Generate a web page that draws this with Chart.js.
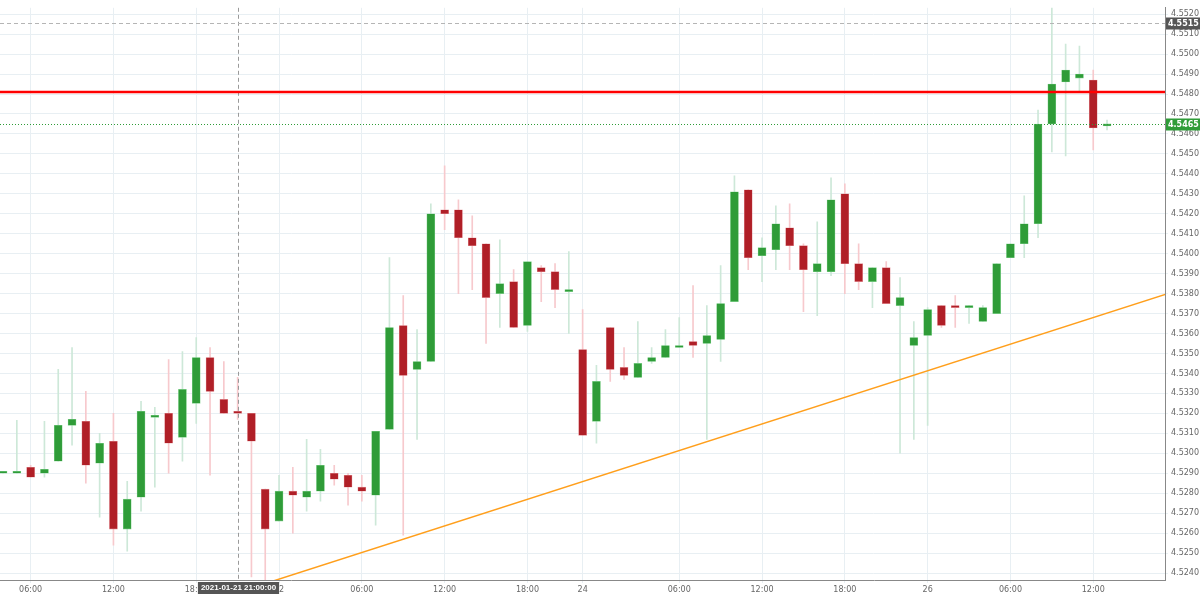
<!DOCTYPE html>
<html>
<head>
<meta charset="utf-8">
<script src="https://cdn.jsdelivr.net/npm/chart.js@4.4.1/dist/chart.umd.min.js"></script>
<style>
  html, body { margin: 0; padding: 0; background: #fff; }
  #wrap { width: 1200px; height: 595px; }
</style>
</head>
<body>
<div id="wrap"><canvas id="c"></canvas></div>
<script>
// hourly candles, 2021-01-21 04:00 .. 2021-01-26 12:00 (weekend skipped)
const opens  = [4.5290,4.5290,4.5293,4.5290,4.5296,4.5314,4.5316,4.5295,4.5306,4.5262,4.5278,4.5318,4.5320,4.5308,4.5325,4.5348,4.5327,4.5321,4.5320,4.5282,
                4.5266,4.5281,4.5278,4.5281,4.5290,4.5289,4.5283,4.5279,4.5312,4.5364,4.5342,4.5346,4.5422,4.5422,4.5408,4.5405,4.5380,4.5386,4.5364,4.5393,4.5391,4.5381,
                4.5352,4.5316,4.5363,4.5343,4.5338,4.5346,4.5348,4.5353,4.5356,4.5355,4.5357,4.5376,4.5432,4.5399,4.5402,4.5413,4.5404,4.5391,4.5391,4.5430,4.5395,4.5386,4.5393,4.5374,
                4.5354,4.5359,4.5374,4.5374,4.5373,4.5366,4.5370,4.5398,4.5405,4.5415,4.5465,4.5486,4.5488,4.5487,4.5464];
const highs  = [4.5290,4.53165,4.5294,4.5316,4.5342,4.5353,4.5331,4.5310,4.5320,4.5286,4.5326,4.5323,4.5347,4.5351,4.5358,4.5353,4.5346,4.5338,4.5320,4.5282,
                4.5289,4.5293,4.5307,4.5302,4.5294,4.5290,4.5289,4.5311,4.5398,4.5379,4.5362,4.5425,4.5444,4.5427,4.5419,4.5405,4.5407,4.5392,4.5396,4.5394,4.5395,4.5401,
                4.5372,4.5344,4.5363,4.5353,4.5366,4.5353,4.5362,4.5368,4.5384,4.5374,4.5394,4.5439,4.5432,4.5408,4.5424,4.5425,4.5405,4.5416,4.5438,4.5435,4.5405,4.5393,4.5396,4.5388,
                4.5366,4.5373,4.5374,4.5379,4.5374,4.5374,4.5395,4.5405,4.5429,4.5472,4.5530,4.5505,4.5504,4.5492,4.5467];
const lows   = [4.5290,4.5290,4.5288,4.5288,4.5296,4.5304,4.5285,4.5268,4.5254,4.5251,4.5271,4.5283,4.5290,4.5296,4.5315,4.5289,4.5320,4.5317,4.5238,4.5235,
                4.5266,4.5260,4.5271,4.5276,4.5284,4.5274,4.5276,4.5264,4.5312,4.5259,4.5307,4.5346,4.5412,4.5380,4.5382,4.5355,4.5363,4.5363,4.5361,4.5376,4.5373,4.5360,
                4.5309,4.5305,4.5336,4.5337,4.5338,4.5345,4.5348,4.5353,4.5348,4.5307,4.5346,4.5376,4.5392,4.5386,4.5392,4.5392,4.5371,4.5369,4.5389,4.5380,4.5382,4.5373,4.5375,4.5300,
                4.5307,4.5314,4.5363,4.5363,4.5365,4.5366,4.5370,4.5398,4.5398,4.5408,4.5451,4.5449,4.5481,4.5452,4.5462];
const closes = [4.52905,4.52905,4.5288,4.5292,4.5314,4.5317,4.5294,4.5305,4.5262,4.5277,4.5321,4.5319,4.5305,4.5332,4.5348,4.5331,4.5320,4.5320,4.5306,4.5262,
                4.5281,4.5279,4.5281,4.5294,4.5287,4.5283,4.5281,4.5311,4.5363,4.5339,4.5346,4.5420,4.5420,4.5408,4.5404,4.5378,4.5385,4.5363,4.5396,4.5391,4.5382,4.5382,
                4.5309,4.5336,4.5342,4.5339,4.5345,4.5348,4.5354,4.5354,4.5354,4.5359,4.5375,4.5431,4.5398,4.5403,4.5415,4.5404,4.5392,4.5395,4.5427,4.5395,4.5386,4.5393,4.5375,4.5378,
                4.5358,4.5372,4.5364,4.5373,4.5373,4.5373,4.5395,4.5405,4.5415,4.5465,4.5485,4.5492,4.5490,4.5463,4.5465];

// x-axis labels by candle index
const tickIndex  = [2, 8, 14, 20, 26, 32, 38, 42, 49, 55, 61, 67, 73, 79];
const tickLabels = ['06:00','12:00','18:00','22','06:00','12:00','18:00','24','06:00','12:00','18:00','26','06:00','12:00'];

// overlays
const resistance = 4.5481;
const lastPrice = 4.5465;
const cursorPrice = 4.55155;
const cursorIndex = 17;
const cursorText = '2021-01-21 21:00:00';
const trendX = [18, 84.4];
const trendY = [4.52325, 4.5380];

const GREEN = '#2f9c38', RED = '#b01f27';
const GREEN_WICK = '#cde8d8', RED_WICK = '#f7c9cd';

const isUp = closes.map((c, i) => c >= opens[i]);
const bodies = opens.map((o, i) => ({ x: i, y: [o, closes[i]] }));
const wicks = lows.map((l, i) => ({ x: i, y: [l, highs[i]] }));

const overlayPlugin = {
  id: 'overlay',
  afterDatasetsDraw(chart) {
    const { ctx, chartArea: a, scales: { x, y } } = chart;
    ctx.save();
    // cursor crosshair
    ctx.strokeStyle = '#9a9a9a';
    ctx.lineWidth = 1;
    ctx.setLineDash([4, 3]);
    const cx = Math.round(x.getPixelForValue(cursorIndex)) + 0.5;
    ctx.beginPath(); ctx.moveTo(cx, a.top); ctx.lineTo(cx, a.bottom); ctx.stroke();
    const cy = Math.round(y.getPixelForValue(cursorPrice)) + 0.5;
    ctx.strokeStyle = '#b5b5b5';
    ctx.beginPath(); ctx.moveTo(a.left, cy); ctx.lineTo(a.right, cy); ctx.stroke();
    // last price dotted
    const ly = Math.round(y.getPixelForValue(lastPrice)) + 0.5;
    ctx.strokeStyle = GREEN;
    ctx.setLineDash([1, 2]);
    ctx.beginPath(); ctx.moveTo(a.left, ly); ctx.lineTo(a.right, ly); ctx.stroke();
    // resistance line
    ctx.setLineDash([]);
    ctx.strokeStyle = '#ff0000';
    ctx.lineWidth = 2.5;
    const ry = y.getPixelForValue(resistance);
    ctx.beginPath(); ctx.moveTo(a.left, ry); ctx.lineTo(a.right, ry); ctx.stroke();
    ctx.restore();

    // price tags on the axis
    ctx.save();
    ctx.font = 'bold 8px "DejaVu Sans"';
    ctx.textBaseline = 'middle';
    const tag = (val, yy, bg) => {
      ctx.fillStyle = bg;
      ctx.fillRect(a.right + 1, yy - 6, 34, 12);
      ctx.fillStyle = '#fff';
      ctx.textAlign = 'left';
      ctx.fillText(val.toFixed(4), a.right + 3, yy);
    };
    tag(cursorPrice, cy, '#555555');
    tag(lastPrice, ly, GREEN);
    // time tag
    ctx.font = 'bold 8px "Liberation Sans"';
    const tw = ctx.measureText(cursorText).width + 6;
    ctx.fillStyle = '#555555';
    ctx.fillRect(cx - tw / 2, a.bottom + 2, tw, 12);
    ctx.fillStyle = '#fff';
    ctx.textAlign = 'center';
    ctx.fillText(cursorText, cx, a.bottom + 8);
    ctx.restore();
  }
};

new Chart(document.getElementById('c'), {
  data: {
    datasets: [
      {
        type: 'bar', label: 'wick', data: wicks, order: 3,
        backgroundColor: isUp.map(u => u ? GREEN_WICK : RED_WICK),
        barThickness: 1, grouped: false
      },
      {
        type: 'bar', label: 'body', data: bodies, order: 2,
        backgroundColor: isUp.map(u => u ? GREEN : RED),
        borderColor: isUp.map(u => u ? '#7fcf8a' : '#e08a90'),
        borderWidth: 0.6, borderSkipped: false,
        barThickness: 8, grouped: false, minBarLength: 2
      },
      {
        type: 'line', label: 'trend', order: 1,
        data: trendX.map((v, i) => ({ x: v, y: trendY[i] })),
        borderColor: '#ff9f1c', borderWidth: 1.5, pointRadius: 0, fill: false
      }
    ]
  },
  options: {
    responsive: true,
    maintainAspectRatio: false,
    animation: false,
    layout: { padding: { top: -8, left: 0, right: 0, bottom: 0 } },
    plugins: { legend: { display: false }, tooltip: { enabled: false } },
    scales: {
      x: {
        type: 'linear', min: -0.22, max: 84.2, offset: false,
        afterBuildTicks: (s) => { s.ticks = tickIndex.map(v => ({ value: v })); },
        afterFit: (s) => { s.height = 15; },
        ticks: {
          autoSkip: false, maxRotation: 0, color: '#666', padding: 2,
          font: { size: 8, family: 'DejaVu Sans' },
          callback: (v) => tickLabels[tickIndex.indexOf(v)] ?? ''
        },
        grid: { color: '#e8eff3', tickLength: 3, offset: false },
        border: { color: '#888' }
      },
      y: {
        position: 'right', min: 4.52365, max: 4.55232,
        afterBuildTicks: (s) => {
          const t = [];
          for (let k = 0; k <= 28; k++) t.push({ value: +(4.524 + k * 0.001).toFixed(4) });
          s.ticks = t;
        },
        afterFit: (s) => { s.width = 35; },
        ticks: {
          color: '#666', padding: 3,
          font: { size: 8, family: 'DejaVu Sans' },
          callback: (v) => v.toFixed(4)
        },
        grid: { color: '#e8eff3', tickLength: 3 },
        border: { color: '#888' }
      }
    }
  },
  plugins: [overlayPlugin]
});
</script>
</body>
</html>
